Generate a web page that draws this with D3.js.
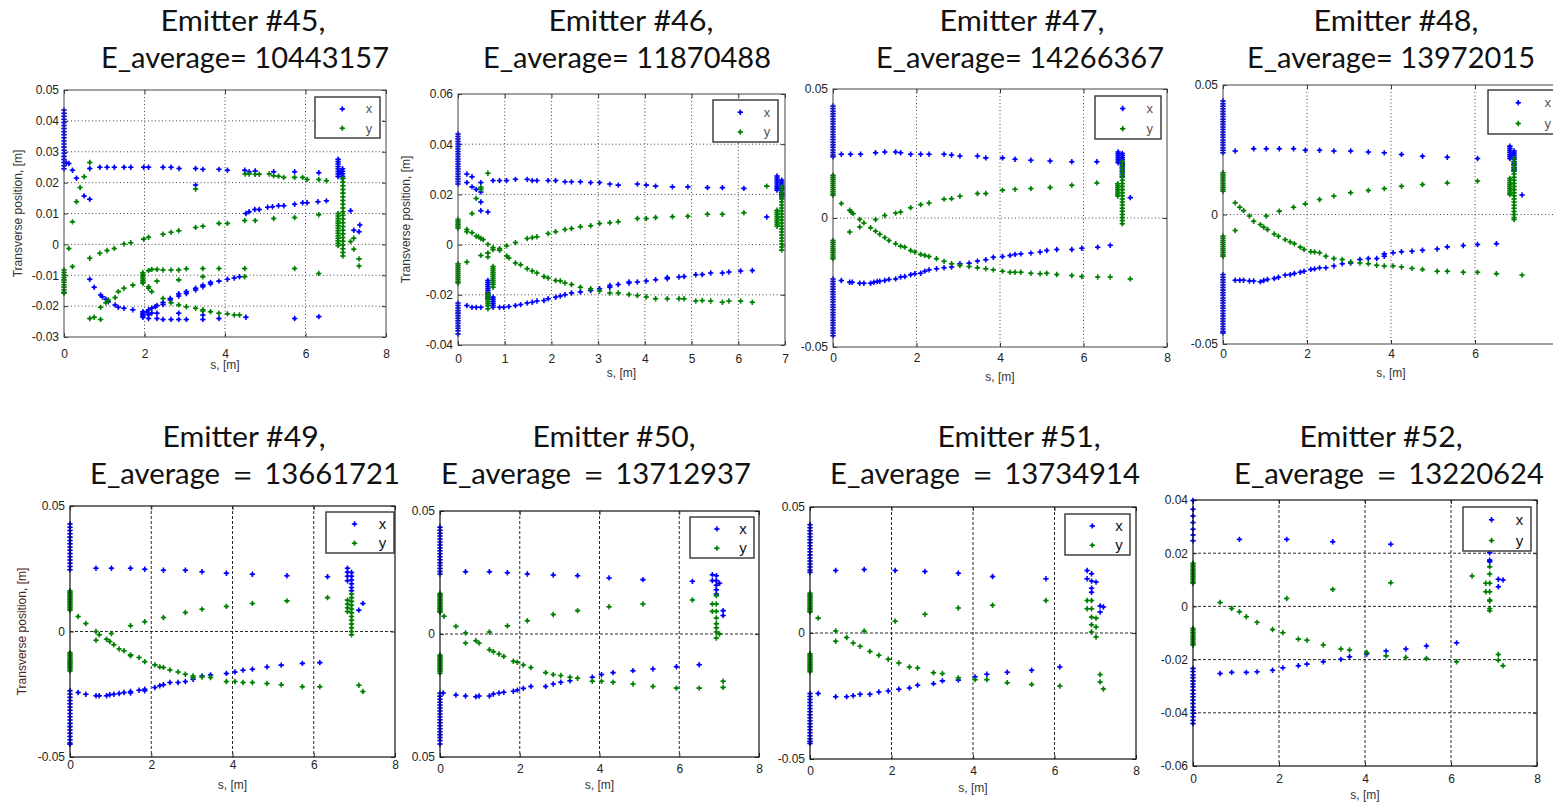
<!DOCTYPE html>
<html>
<head>
<meta charset="utf-8">
<script src="https://cdn.jsdelivr.net/npm/d3@7"></script>
<style>
  body { margin: 0; background: #fff; overflow: hidden; }
  svg { display: block; }
</style>
</head>
<body>
<div id="chart"></div>
<script>
// ---- data: [s (m), transverse position (m)] ----
var e45_x = [[0,0.0435],[0,0.0425],[0,0.0415],[0,0.0405],[0,0.0395],[0,0.0385],[0,0.0375],[0,0.0365],[0,0.0355],[0,0.0345],[0,0.0335],[0,0.0325],[0,0.0315],[0,0.0305],[0,0.0295],[0,0.0285],[0,0.0275],[0,0.0265],[0,0.0255],[0,0.0245],
  [0.06,0.0264],[0.12,0.0262],[0.21,0.024],[0.31,0.0214],[0.5,0.0157],[0.64,0.0146],
  [0.64,0.0246],[0.89,0.025],[1.07,0.025],[1.25,0.025],[1.49,0.025],[1.66,0.025],[1.98,0.025],[2.1,0.025],[2.46,0.025],[2.66,0.025],[2.86,0.0246],[3.27,0.0246],[3.45,0.0243],[3.85,0.0243],[4.06,0.024],[4.49,0.024],[4.6,0.0235],[4.75,0.0238],[5.21,0.0235],[5.73,0.0235],[6.33,0.0232],
  [3.27,0.0192],
  [6.81,0.0276],[6.81,0.0268],[6.81,0.026],[6.81,0.0252],[6.81,0.0244],[6.81,0.0236],[6.81,0.0228],[6.81,0.022],[6.92,0.0245],[6.92,0.0237],[6.92,0.0229],[6.92,0.0221],[6.92,0.0213],[6.86,0.0232],
  [4.52,0.01],[4.6,0.0106],[4.74,0.0113],[4.85,0.0113],[5.06,0.012],[5.18,0.0122],[5.33,0.0125],[5.46,0.0125],[5.73,0.013],[5.93,0.0135],[6.04,0.0135],[6.31,0.0138],[6.52,0.0141],
  [7.12,0.0109],[7.2,0.0046],[7.35,0.0063],[7.33,0.0041],
  [0.64,-0.0113],[0.75,-0.0139],[0.91,-0.0164],[0.95,-0.017],[1.04,-0.0178],[1.1,-0.0186],[1.27,-0.0196],[1.35,-0.0204],[1.49,-0.0207],[1.71,-0.0212],
  [1.96,-0.0218],[1.96,-0.0223],[1.96,-0.0228],[1.96,-0.0232],[1.96,-0.0236],
  [2.06,-0.0218],[2.1,-0.0212],[2.18,-0.0207],[2.27,-0.0202],[2.31,-0.0198],[2.46,-0.0188],[2.46,-0.0195],[2.64,-0.018],[2.64,-0.0175],[2.85,-0.0167],[2.85,-0.016],[3.04,-0.0159],[3.04,-0.0153],[3.27,-0.0148],[3.27,-0.0142],[3.45,-0.0137],[3.45,-0.0132],[3.64,-0.0128],[3.64,-0.0123],[3.85,-0.0119],[4.06,-0.0113],[4.23,-0.0109],[4.36,-0.0105],
  [2.1,-0.024],[2.31,-0.024],[2.46,-0.0243],[2.66,-0.0243],[2.85,-0.0243],[3.04,-0.0243],[3.45,-0.0243],[3.85,-0.024],[4.52,-0.0236],[5.73,-0.024],[6.33,-0.0234],
  [2.85,-0.0223],[2.31,-0.0223],[3.45,-0.0229],[2.1,-0.0228],[2.18,-0.0222]];
var e45_y = [[0,-0.0083],[0,-0.0091],[0,-0.0099],[0,-0.0107],[0,-0.0115],[0,-0.0123],[0,-0.0131],[0,-0.0139],[0,-0.0147],[0,-0.0155],[0,-0.0158],
  [0.12,-0.0013],[0.21,0.0073],[0.21,-0.0072],[0.31,0.0138],[0.4,0.0184],[0.5,0.0219],[0.64,0.0265],
  [0.64,-0.0045],[0.89,-0.0029],[1.07,-0.002],[1.25,-0.0013],[1.49,0.0001],[1.66,0.0005],[1.98,0.0017],[2.1,0.0023],[2.46,0.0033],[2.66,0.0039],[2.85,0.0044],[3.27,0.0055],[3.45,0.0059],[3.85,0.0068],[4.06,0.0068],[4.49,0.0077],[4.75,0.0077],[5.21,0.0084],[5.73,0.0087],[6.33,0.0096],
  [3.27,0.0179],
  [4.5,0.0228],[4.6,0.0228],[4.75,0.0227],[4.85,0.0227],[5.1,0.0228],[5.21,0.0222],[5.33,0.0221],[5.46,0.0217],[5.73,0.0217],[5.93,0.0217],[6.04,0.021],[6.33,0.021],[6.52,0.0206],
  [6.81,0.01],[6.81,0.0092],[6.81,0.0084],[6.81,0.0076],[6.81,0.0068],[6.81,0.006],[6.81,0.0052],[6.81,0.0044],[6.81,0.0036],[6.81,0.0028],[6.81,0.002],[6.81,0.0012],[6.81,0.0004],[6.81,-0.0004],
  [6.93,0.0214],[6.93,0.0202],[6.93,0.019],[6.93,0.0178],[6.93,0.0166],[6.93,0.0154],[6.93,0.0142],[6.93,0.013],[6.93,0.0118],[6.93,0.0106],[6.93,0.0094],[6.93,0.0082],[6.93,0.007],[6.93,0.0058],[6.93,0.0046],[6.93,0.0034],[6.93,0.0022],[6.93,0.001],[6.93,-0.0002],[6.93,-0.0014],[6.93,-0.0026],[6.93,-0.0038],
  [7.12,0.0009],[7.2,0.002],[7.2,-0.0016],[7.33,-0.0047],[7.33,-0.007],
  [0.91,-0.0204],[1.04,-0.0189],[1.1,-0.018],[1.27,-0.0172],[1.35,-0.0153],[1.49,-0.0142],[1.71,-0.0132],[0.64,-0.024],[0.75,-0.0236],[0.91,-0.0243],
  [1.96,-0.0092],[1.96,-0.0098],[1.96,-0.0104],[1.96,-0.011],[1.96,-0.0116],[1.96,-0.0122],[1.96,-0.0126],
  [2.1,-0.0085],[2.18,-0.0081],[2.31,-0.0081],[2.46,-0.0083],[2.66,-0.0083],[2.85,-0.0083],[3.04,-0.0079],[3.45,-0.0078],[3.85,-0.0078],[4.49,-0.0078],[5.73,-0.0078],[6.33,-0.0094],
  [2.1,-0.0137],[2.1,-0.0142],[2.18,-0.0153],[2.31,-0.0119],[2.46,-0.0175],[2.66,-0.0189],[2.85,-0.0196],[3.04,-0.0202],[3.27,-0.0207],[3.45,-0.0212],[3.45,-0.0216],[3.64,-0.0218],[3.85,-0.0223],[4.06,-0.0225],[4.23,-0.0229],[4.36,-0.0229],[4.49,-0.0105],[3.45,-0.0105],[2.85,-0.0115]];

var e46_x = [[0,0.0441],[0,0.0431],[0,0.0421],[0,0.0411],[0,0.0401],[0,0.0391],[0,0.0381],[0,0.0371],[0,0.0361],[0,0.0351],[0,0.0341],[0,0.0331],[0,0.0321],[0,0.0311],[0,0.0301],[0,0.0291],[0,0.0281],[0,0.0271],[0,0.0261],[0,0.0251],[0,0.0241],
  [0,-0.0233],[0,-0.0243],[0,-0.0253],[0,-0.0263],[0,-0.0273],[0,-0.0283],[0,-0.0293],[0,-0.0303],[0,-0.0313],[0,-0.0323],[0,-0.0333],[0,-0.0343],[0,-0.0356],
  [0.19,0.0281],[0.3,0.027],[0.19,0.0247],[0.3,0.023],[0.39,0.022],[0.49,0.0247],[0.49,0.021],[0.49,0.017],[0.49,0.0135],[0.64,0.013],
  [0.75,0.0255],[0.89,0.0255],[1.04,0.0255],[1.23,0.026],[1.48,0.026],[1.59,0.0255],[1.69,0.0255],[1.93,0.0255],[2.09,0.0255],[2.29,0.025],[2.43,0.025],[2.62,0.025],[2.84,0.0247],[3.03,0.0247],[3.25,0.0241],[3.43,0.0237],[3.84,0.0241],[4.03,0.0237],[4.23,0.0233],[4.59,0.023],[4.92,0.023],[5.34,0.0227],[5.66,0.0227],[6.12,0.0224],
  [6.83,0.0273],[6.83,0.0265],[6.83,0.0257],[6.83,0.0249],[6.83,0.0241],[6.83,0.0233],[6.83,0.0225],[6.83,0.0217],
  [6.93,0.0257],[6.93,0.0249],[6.93,0.0241],[6.93,0.0233],[6.93,0.0225],[6.93,0.0217],[6.93,0.0209],[6.93,0.0201],[6.93,0.0193],[6.93,0.0185],[6.61,0.011],
  [0.64,-0.0143],[0.64,-0.0151],[0.64,-0.0159],[0.64,-0.0167],[0.64,-0.0175],[0.64,-0.0183],[0.64,-0.0191],[0.64,-0.0199],[0.64,-0.0207],[0.64,-0.0216],
  [0.75,-0.021],[0.75,-0.0218],[0.75,-0.0226],[0.75,-0.0234],[0.75,-0.0242],[0.75,-0.025],
  [0.19,-0.0243],[0.3,-0.025],[0.39,-0.025],[0.49,-0.025],[0.89,-0.025],[0.98,-0.025],[1.09,-0.0247],[1.23,-0.0243],[1.34,-0.0239],[1.48,-0.0233],[1.59,-0.023],[1.69,-0.0225],[1.84,-0.0223],[1.93,-0.0216],[2.09,-0.021],[2.19,-0.0205],[2.29,-0.02],[2.43,-0.0193],[2.62,-0.0189],[2.84,-0.0183],[3.03,-0.0176],[3.25,-0.017],[3.25,-0.0163],[3.43,-0.0159],[3.66,-0.0153],[3.66,-0.0149],[3.84,-0.0149],[4.03,-0.0145],[4.23,-0.014],[4.48,-0.0136],[4.48,-0.0131],[4.73,-0.0129],[4.84,-0.0127],[5.09,-0.012],[5.23,-0.0119],[5.41,-0.0113],[5.66,-0.0113],[5.8,-0.0109],[6.05,-0.0105],[6.3,-0.0103]];
var e46_y = [[0,0.01],[0,0.0093],[0,0.0086],[0,0.0079],[0,0.0072],[0,0.0065],
  [0,-0.0076],[0,-0.0084],[0,-0.0092],[0,-0.01],[0,-0.0108],[0,-0.0116],[0,-0.0124],[0,-0.0132],[0,-0.014],[0,-0.0148],[0,-0.0153],
  [0.19,0.006],[0.19,0.0051],[0.3,0.0047],[0.39,0.0033],[0.44,0.0031],[0.49,0.0024],[0.54,0.002],[0.64,0.0001],[0.75,-0.0012],[0.89,-0.0023],[1.04,-0.0045],[1.09,-0.0053],[1.23,-0.0073],[1.34,-0.008],[1.48,-0.0096],[1.59,-0.0105],[1.69,-0.0113],[1.84,-0.0127],[1.93,-0.0133],[2.09,-0.0143],[2.19,-0.0145],[2.29,-0.0153],[2.43,-0.0159],[2.62,-0.017],[2.84,-0.0176],[3.03,-0.0185],[3.25,-0.0193],[3.43,-0.0193],[3.66,-0.0199],[3.84,-0.0203],[4.03,-0.0209],[4.23,-0.0216],[4.48,-0.0216],[4.73,-0.0216],[4.84,-0.0216],[5.09,-0.0225],[5.23,-0.0223],[5.41,-0.0225],[5.66,-0.023],[5.8,-0.0225],[6.05,-0.0225],[6.3,-0.023],
  [0.19,-0.0069],[0.49,-0.0043],[0.64,-0.0033],[0.64,-0.0049],[0.75,-0.002],[0.89,-0.0016],[1.04,-0.0005],[1.23,0.0008],[1.48,0.0024],[1.59,0.0028],[1.69,0.0031],[1.93,0.0044],[2.09,0.0051],[2.29,0.006],[2.43,0.0064],[2.62,0.0071],[2.84,0.0075],[3.03,0.0084],[3.25,0.0087],[3.43,0.0091],[3.84,0.0104],[4.03,0.0104],[4.23,0.0108],[4.59,0.0111],[4.92,0.0113],[5.34,0.0121],[5.66,0.0121],[6.12,0.0127],
  [0.3,0.0124],[0.39,0.0184],[0.49,0.022],[0.49,0.0228],[0.64,0.0284],
  [0.75,-0.0087],[0.75,-0.0095],[0.75,-0.0103],[0.75,-0.0111],[0.75,-0.0119],[0.75,-0.0127],[0.75,-0.0135],[0.75,-0.0143],[0.75,-0.0151],[0.75,-0.0159],[0.75,-0.017],
  [0.64,-0.0196],[0.64,-0.0204],[0.64,-0.0212],[0.64,-0.022],[0.64,-0.0228],[0.64,-0.0236],[0.64,-0.0244],[0.64,-0.0256],
  [6.61,0.0233],
  [6.83,0.0137],[6.83,0.0129],[6.83,0.0121],[6.83,0.0113],[6.83,0.0105],[6.83,0.0097],[6.83,0.0089],[6.83,0.0081],[6.83,0.0073],
  [6.93,0.023],[6.93,0.0218],[6.93,0.0206],[6.93,0.0194],[6.93,0.0182],[6.93,0.017],[6.93,0.0158],[6.93,0.0146],[6.93,0.0134],[6.93,0.0122],[6.93,0.011],[6.93,0.0098],[6.93,0.0086],[6.93,0.0074],[6.93,0.0062],[6.93,0.005],[6.93,0.0038],[6.93,0.0026],[6.93,0.0014],[6.93,0.0002],[6.93,-0.001],[6.93,-0.0022]];

var e47_x = [[0,0.0434],[0,0.0424],[0,0.0414],[0,0.0404],[0,0.0394],[0,0.0384],[0,0.0374],[0,0.0364],[0,0.0354],[0,0.0344],[0,0.0334],[0,0.0324],[0,0.0314],[0,0.0304],[0,0.0294],[0,0.0284],[0,0.0274],[0,0.0264],[0,0.0254],[0,0.0244],[0,0.0237],
  [0,-0.0236],[0,-0.0246],[0,-0.0256],[0,-0.0266],[0,-0.0276],[0,-0.0286],[0,-0.0296],[0,-0.0306],[0,-0.0316],[0,-0.0326],[0,-0.0336],[0,-0.0346],[0,-0.0356],[0,-0.0366],[0,-0.0376],[0,-0.0386],[0,-0.0396],[0,-0.0406],[0,-0.0416],[0,-0.0426],[0,-0.0436],[0,-0.0446],[0,-0.0456],
  [0.2,0.0247],[0.42,0.0247],[0.66,0.0247],[1.02,0.0253],[1.24,0.0256],[1.5,0.0256],[1.62,0.0253],[1.86,0.0247],[2.1,0.0247],[2.3,0.0247],[2.66,0.0247],[2.84,0.0244],[3.04,0.024],[3.46,0.024],[3.66,0.0233],[4.06,0.0233],[4.36,0.0228],[4.74,0.0224],[5.2,0.0221],[5.72,0.0218],[6.32,0.0218],
  [6.83,0.0256],[6.83,0.0249],[6.83,0.0242],[6.83,0.0235],[6.83,0.0228],[6.83,0.0221],[6.83,0.0214],
  [6.93,0.025],[6.93,0.0242],[6.93,0.0234],[6.93,0.0226],[6.93,0.0218],[6.93,0.021],[6.93,0.0202],[6.93,0.0194],[6.93,0.0186],[6.93,0.0178],[6.93,0.017],[6.93,0.0162],[7.12,0.0079],
  [0.2,-0.0242],[0.4,-0.0249],[0.46,-0.0249],[0.64,-0.0253],[0.74,-0.0253],[0.9,-0.0253],[0.98,-0.0249],[1.06,-0.0246],[1.12,-0.0245],[1.24,-0.0242],[1.34,-0.0238],[1.5,-0.0236],[1.62,-0.0229],[1.72,-0.0227],[1.86,-0.022],[1.96,-0.0216],[2.1,-0.0214],[2.2,-0.0206],[2.3,-0.0201],[2.48,-0.0197],[2.66,-0.0193],[2.84,-0.019],[3.04,-0.0177],[3.26,-0.0175],[3.46,-0.0167],[3.66,-0.0162],[3.84,-0.0152],[4.06,-0.0149],[4.24,-0.0145],[4.36,-0.0141],[4.5,-0.0139],[4.74,-0.0136],[4.96,-0.0132],[5.12,-0.0126],[5.36,-0.0122],[5.72,-0.0122],[5.96,-0.0117],[6.34,-0.0113],[6.64,-0.0106]];
var e47_y = [[0,0.0166],[0,0.0158],[0,0.015],[0,0.0142],[0,0.0134],[0,0.0126],[0,0.0118],[0,0.011],[0,0.0102],[0,0.0094],[0,0.0088],
  [0,-0.0087],[0,-0.0095],[0,-0.0103],[0,-0.0111],[0,-0.0119],[0,-0.0127],[0,-0.0135],[0,-0.0143],[0,-0.0151],[0,-0.0158],
  [0.2,0.0056],[0.4,0.003],[0.44,0.0023],[0.48,0.0017],[0.64,-0.0006],[0.74,-0.0019],[0.9,-0.0038],[1.02,-0.0051],[1.12,-0.0063],[1.24,-0.0076],[1.34,-0.0087],[1.5,-0.01],[1.62,-0.0109],[1.72,-0.0113],[1.86,-0.0126],[1.96,-0.0132],[2.1,-0.0141],[2.2,-0.0145],[2.3,-0.0149],[2.48,-0.0158],[2.66,-0.0168],[2.84,-0.0177],[3.04,-0.0184],[3.26,-0.0188],[3.46,-0.0193],[3.66,-0.0197],[3.84,-0.0201],[4.06,-0.0206],[4.24,-0.021],[4.36,-0.021],[4.5,-0.021],[4.74,-0.0214],[4.96,-0.0216],[5.12,-0.0214],[5.36,-0.0219],[5.72,-0.0223],[5.96,-0.0227],[6.34,-0.0229],[6.64,-0.0229],[7.12,-0.0236],
  [0.4,-0.0054],[0.64,-0.0035],[1.02,-0.0006],[1.24,0.001],[1.5,0.0019],[1.62,0.0023],[1.86,0.004],[2.1,0.0052],[2.3,0.0058],[2.66,0.0073],[2.84,0.0075],[3.04,0.0084],[3.46,0.0095],[3.66,0.0095],[4.06,0.0108],[4.36,0.0111],[4.74,0.0114],[5.2,0.0118],[5.72,0.0127],[6.32,0.0136],
  [6.82,0.0133],[6.82,0.0125],[6.82,0.0117],[6.82,0.0109],[6.82,0.0101],[6.82,0.0093],[6.82,0.0085],
  [6.93,0.0218],[6.93,0.0206],[6.93,0.0194],[6.93,0.0182],[6.93,0.017],[6.93,0.0158],[6.93,0.0146],[6.93,0.0134],[6.93,0.0122],[6.93,0.011],[6.93,0.0098],[6.93,0.0086],[6.93,0.0074],[6.93,0.0062],[6.93,0.005],[6.93,0.0038],[6.93,0.0026],[6.93,0.0014],[6.93,0.0002],[6.93,-0.001],[6.93,-0.0022]];

var e48_x = [[0,0.0438],[0,0.0428],[0,0.0418],[0,0.0408],[0,0.0398],[0,0.0388],[0,0.0378],[0,0.0368],[0,0.0358],[0,0.0348],[0,0.0338],[0,0.0328],[0,0.0318],[0,0.0308],[0,0.0298],[0,0.0288],[0,0.0278],[0,0.0268],[0,0.0258],[0,0.0248],[0,0.0238],
  [0,-0.0232],[0,-0.0242],[0,-0.0252],[0,-0.0262],[0,-0.0272],[0,-0.0282],[0,-0.0292],[0,-0.0302],[0,-0.0312],[0,-0.0322],[0,-0.0332],[0,-0.0342],[0,-0.0352],[0,-0.0362],[0,-0.0372],[0,-0.0382],[0,-0.0392],[0,-0.0402],[0,-0.0412],[0,-0.0422],[0,-0.0432],[0,-0.0442],[0,-0.0452],[0,-0.0457],
  [0.29,0.0245],[0.73,0.0254],[1.03,0.0254],[1.34,0.0254],[1.68,0.0254],[1.96,0.0248],[2.3,0.0248],[2.64,0.0245],[3.04,0.0245],[3.46,0.0241],[3.84,0.0238],[4.25,0.0232],[4.75,0.0225],[5.34,0.0221],[6.06,0.0216],
  [6.83,0.0264],[6.83,0.0256],[6.83,0.0248],[6.83,0.024],[6.83,0.0232],[6.83,0.0224],[6.83,0.0216],
  [6.93,0.0245],[6.93,0.0237],[6.93,0.0229],[6.93,0.0221],[6.93,0.0213],[6.93,0.0205],[6.93,0.0197],[6.93,0.0189],[6.93,0.0181],[6.93,0.0173],[6.93,0.0167],[7.12,0.0075],
  [0.29,-0.0254],[0.4,-0.0254],[0.49,-0.0254],[0.63,-0.0257],[0.73,-0.0257],[0.89,-0.026],[0.97,-0.0255],[1.06,-0.0251],[1.22,-0.0247],[1.32,-0.0242],[1.48,-0.0234],[1.6,-0.0232],[1.7,-0.0228],[1.84,-0.0223],[1.93,-0.0219],[2.09,-0.0212],[2.18,-0.021],[2.3,-0.0206],[2.45,-0.0206],[2.64,-0.0199],[2.84,-0.019],[3.04,-0.0187],[3.26,-0.0174],[3.46,-0.017],[3.66,-0.017],[3.84,-0.0161],[3.84,-0.0152],[4.05,-0.0148],[4.25,-0.0144],[4.5,-0.0142],[4.75,-0.0138],[5.1,-0.0133],[5.34,-0.0125],[5.72,-0.012],[6.06,-0.0116],[6.51,-0.0113]];
var e48_y = [[0,0.0161],[0,0.0153],[0,0.0145],[0,0.0137],[0,0.0129],[0,0.0121],[0,0.0113],[0,0.0105],[0,0.0097],[0,0.009],
  [0,-0.0084],[0,-0.0092],[0,-0.01],[0,-0.0108],[0,-0.0116],[0,-0.0124],[0,-0.0132],[0,-0.014],[0,-0.0148],[0,-0.0156],[0,-0.0161],
  [0.29,0.0045],[0.4,0.0028],[0.49,0.0015],[0.63,-0.0006],[0.73,-0.0026],[0.89,-0.0039],[0.97,-0.0049],[1.06,-0.0058],[1.22,-0.0075],[1.32,-0.0084],[1.48,-0.0097],[1.6,-0.0106],[1.7,-0.0113],[1.84,-0.0126],[1.93,-0.0135],[2.09,-0.0144],[2.18,-0.0145],[2.3,-0.0148],[2.45,-0.0161],[2.64,-0.017],[2.84,-0.0174],[3.04,-0.0183],[3.26,-0.0187],[3.46,-0.019],[3.66,-0.0196],[3.84,-0.0199],[4.05,-0.0199],[4.25,-0.0203],[4.5,-0.0208],[4.75,-0.0212],[5.1,-0.0219],[5.34,-0.0219],[5.72,-0.0223],[6.06,-0.0223],[6.51,-0.0229],[7.12,-0.0234],
  [0.29,-0.0062],[1.03,-0.0006],[1.34,0.0013],[1.68,0.0028],[1.96,0.0041],[2.3,0.0058],[2.64,0.0071],[3.04,0.0084],[3.46,0.0093],[3.84,0.01],[4.25,0.0109],[4.75,0.0116],[5.34,0.0122],[6.06,0.0129],
  [6.83,0.0139],[6.83,0.0131],[6.83,0.0123],[6.83,0.0115],[6.83,0.0107],[6.83,0.0099],[6.83,0.0091],[6.83,0.0083],[6.83,0.0077],
  [6.93,0.0216],[6.93,0.0204],[6.93,0.0192],[6.93,0.018],[6.93,0.0168],[6.93,0.0156],[6.93,0.0144],[6.93,0.0132],[6.93,0.012],[6.93,0.0108],[6.93,0.0096],[6.93,0.0084],[6.93,0.0072],[6.93,0.006],[6.93,0.0048],[6.93,0.0036],[6.93,0.0024],[6.93,0.0012],[6.93,0],[6.93,-0.0012],[6.93,-0.0019]];

var e49_x = [[0,0.0428],[0,0.0415],[0,0.0402],[0,0.0389],[0,0.0376],[0,0.0363],[0,0.035],[0,0.0337],[0,0.0324],[0,0.0311],[0,0.0298],[0,0.0285],[0,0.0272],[0,0.0259],[0,0.0246],
  [0,-0.0236],[0,-0.0249],[0,-0.0262],[0,-0.0275],[0,-0.0288],[0,-0.0301],[0,-0.0314],[0,-0.0327],[0,-0.034],[0,-0.0353],[0,-0.0366],[0,-0.0379],[0,-0.0392],[0,-0.0405],[0,-0.0418],[0,-0.0431],[0,-0.0444],[0,-0.0449],
  [0.64,0.0252],[1.02,0.0252],[1.49,0.0252],[1.84,0.0248],[2.3,0.0244],[2.84,0.0244],[3.25,0.0238],[3.85,0.0232],[4.49,0.0228],[5.34,0.0222],[6.34,0.0218],
  [6.83,0.0252],[6.83,0.0236],[6.83,0.022],[6.83,0.0202],
  [6.93,0.0235],[6.93,0.022],[6.93,0.0205],[6.93,0.019],[6.93,0.0175],[6.93,0.0162],[7.11,0.0085],[7.21,0.0112],
  [0.2,-0.0243],[0.39,-0.025],[0.64,-0.0256],[0.72,-0.0256],[0.9,-0.0256],[0.98,-0.0252],[1.08,-0.025],[1.21,-0.0247],[1.33,-0.0243],[1.49,-0.0239],[1.49,-0.0245],[1.7,-0.0234],[1.84,-0.023],[1.84,-0.0236],[2.09,-0.0223],[2.21,-0.0216],[2.3,-0.0212],[2.46,-0.0203],[2.66,-0.0203],[2.84,-0.0199],[3.03,-0.019],[3.25,-0.0177],[3.46,-0.0173],[3.85,-0.0167],[4.06,-0.0161],[4.26,-0.0154],[4.49,-0.015],[4.85,-0.0141],[5.2,-0.0134],[5.72,-0.0127],[6.15,-0.0124]];
var e49_y = [[0,0.0162],[0,0.0156],[0,0.015],[0,0.0144],[0,0.0138],[0,0.0132],[0,0.0126],[0,0.012],[0,0.0114],[0,0.0108],[0,0.0102],[0,0.0096],[0,0.009],[0,0.0085],
  [0,-0.0084],[0,-0.009],[0,-0.0096],[0,-0.0102],[0,-0.0108],[0,-0.0114],[0,-0.012],[0,-0.0126],[0,-0.0132],[0,-0.0138],[0,-0.0144],[0,-0.015],[0,-0.0157],
  [0.2,0.006],[0.39,0.0032],[0.64,0],[0.72,-0.0013],[0.9,-0.0031],[0.98,-0.004],[1.08,-0.0053],[1.21,-0.007],[1.33,-0.0077],[1.49,-0.0093],[1.49,-0.0097],[1.7,-0.0104],[1.84,-0.012],[2.09,-0.0133],[2.21,-0.0141],[2.3,-0.0143],[2.46,-0.0153],[2.66,-0.0161],[2.84,-0.017],[3.03,-0.0177],[3.03,-0.0183],[3.25,-0.0181],[3.46,-0.0183],[3.85,-0.0199],[4.06,-0.0199],[4.26,-0.0203],[4.49,-0.0203],[4.85,-0.0207],[5.2,-0.0212],[5.72,-0.022],[6.15,-0.022],[7.11,-0.0214],[7.21,-0.0239],
  [0.64,-0.0035],[1.02,-0.0008],[1.49,0.0023],[1.84,0.0039],[2.3,0.0056],[2.84,0.0076],[3.25,0.0089],[3.85,0.01],[4.49,0.0112],[5.34,0.0122],[6.34,0.0135],
  [6.83,0.0125],[6.83,0.011],[6.83,0.0095],[6.83,0.008],
  [6.93,0.0149],[6.93,0.0135],[6.93,0.012],[6.93,0.0105],[6.93,0.009],[6.93,0.0075],[6.93,0.006],[6.93,0.0045],[6.93,0.003],[6.93,0.0015],[6.93,0],[6.93,-0.0013]];

var e50_x = [[0,0.0434],[0,0.0422],[0,0.041],[0,0.0398],[0,0.0386],[0,0.0374],[0,0.0362],[0,0.035],[0,0.0338],[0,0.0326],[0,0.0314],[0,0.0302],[0,0.029],[0,0.0278],[0,0.0266],[0,0.0254],[0,0.0244],
  [0,-0.0241],[0,-0.0253],[0,-0.0265],[0,-0.0277],[0,-0.0289],[0,-0.0301],[0,-0.0313],[0,-0.0325],[0,-0.0337],[0,-0.0349],[0,-0.0361],[0,-0.0373],[0,-0.0385],[0,-0.0397],[0,-0.0409],[0,-0.0421],[0,-0.0433],[0,-0.0447],
  [0.08,-0.024],
  [0.64,0.0253],[1.24,0.0253],[1.69,0.0249],[2.19,0.0244],[2.84,0.024],[3.45,0.0237],[4.24,0.0228],[5.09,0.0221],[6.33,0.0214],
  [6.83,0.0241],[6.83,0.0217],[6.93,0.0237],[6.93,0.0217],[6.93,0.0198],[6.93,0.018],[6.93,0.0163],[7.01,0.0206],[7.1,0.0095],[7.1,0.0075],
  [0.4,-0.0248],[0.64,-0.0252],[0.9,-0.0255],[0.98,-0.0252],[1.24,-0.0252],[1.34,-0.0244],[1.48,-0.024],[1.6,-0.0237],[1.84,-0.0233],[1.94,-0.0228],[2.09,-0.0221],[2.28,-0.0213],[2.65,-0.0213],[2.84,-0.0203],[3.03,-0.0196],[3.26,-0.019],[3.82,-0.0176],[4.05,-0.0165],[4.34,-0.0157],[4.84,-0.0149],[5.34,-0.0142],[5.93,-0.0133],[6.5,-0.0125]];
var e50_y = [[0,0.0165],[0,0.0159],[0,0.0153],[0,0.0147],[0,0.0141],[0,0.0135],[0,0.0129],[0,0.0123],[0,0.0117],[0,0.0111],[0,0.0105],[0,0.0099],[0,0.0093],[0,0.0088],
  [0,-0.0085],[0,-0.0091],[0,-0.0097],[0,-0.0103],[0,-0.0109],[0,-0.0115],[0,-0.0121],[0,-0.0127],[0,-0.0133],[0,-0.0139],[0,-0.0145],[0,-0.0151],[0,-0.016],
  [0.1,0.0072],[0.4,0.0031],[0.64,0.0004],[1.24,0.0008],[1.69,0.0033],[2.19,0.0054],[2.84,0.0079],[3.45,0.0095],[4.24,0.0111],[5.09,0.0122],[6.33,0.0138],
  [0.64,-0.0037],[0.9,-0.0027],[0.98,-0.0037],[1.24,-0.0064],[1.34,-0.0072],[1.48,-0.0081],[1.6,-0.0091],[1.84,-0.0111],[1.94,-0.0115],[2.09,-0.0126],[2.28,-0.0136],[2.65,-0.0157],[2.84,-0.0165],[3.03,-0.0169],[3.26,-0.0176],[3.45,-0.018],[3.82,-0.0192],[4.05,-0.0192],[4.34,-0.0196],[4.84,-0.0203],[5.34,-0.0213],[5.93,-0.022],[6.5,-0.022],[7.1,-0.0192],[7.1,-0.0217],
  [6.83,0.0122],[6.83,0.0092],[6.93,0.0156],[6.93,0.0122],[6.93,0.0092],[6.93,0.0065],[6.93,0.0042],[6.93,0.0025],[6.93,0.0008],[6.93,-0.0016],[7.01,0]];

var e51_x = [[0,0.043],[0,0.0418],[0,0.0406],[0,0.0394],[0,0.0382],[0,0.037],[0,0.0358],[0,0.0346],[0,0.0334],[0,0.0322],[0,0.031],[0,0.0298],[0,0.0286],[0,0.0274],[0,0.0262],[0,0.025],[0,0.0241],
  [0,-0.024],[0,-0.0252],[0,-0.0264],[0,-0.0276],[0,-0.0288],[0,-0.03],[0,-0.0312],[0,-0.0324],[0,-0.0336],[0,-0.0348],[0,-0.036],[0,-0.0372],[0,-0.0384],[0,-0.0396],[0,-0.0408],[0,-0.042],[0,-0.043],[0,-0.0438],
  [0.2,-0.024],
  [0.63,0.0248],[1.33,0.0252],[2.09,0.0248],[2.82,0.0244],[3.64,0.0237],[4.48,0.0224],[5.79,0.0215],
  [6.8,0.0248],[6.8,0.0215],[6.91,0.0235],[6.91,0.0206],[6.91,0.0178],[6.91,0.0162],[7.02,0.0202],[7.12,0.0107],[7.2,0.0103],[7.12,0.0083],
  [0.63,-0.0253],[0.9,-0.0253],[1.06,-0.0249],[1.23,-0.0243],[1.47,-0.0243],[1.69,-0.0234],[1.92,-0.023],[2.18,-0.0223],[2.44,-0.0218],[2.64,-0.0207],[3.03,-0.0201],[3.25,-0.019],[3.64,-0.0187],[4.05,-0.0174],[4.34,-0.0164],[4.84,-0.0156],[5.44,-0.0148],[6.13,-0.0135]];
var e51_y = [[0,0.0158],[0,0.0152],[0,0.0146],[0,0.014],[0,0.0134],[0,0.0128],[0,0.0122],[0,0.0116],[0,0.011],[0,0.0104],[0,0.0098],[0,0.0092],[0,0.0086],[0,0.0083],
  [0,-0.0082],[0,-0.0088],[0,-0.0094],[0,-0.01],[0,-0.0106],[0,-0.0112],[0,-0.0118],[0,-0.0124],[0,-0.013],[0,-0.0136],[0,-0.0142],[0,-0.0148],[0,-0.0154],
  [0.2,0.0059],[0.63,0.0008],[1.33,0.0008],[2.09,0.0047],[2.82,0.0074],[3.64,0.0099],[4.48,0.011],[5.79,0.0129],
  [0.63,-0.0033],[0.9,-0.0018],[1.06,-0.004],[1.23,-0.0053],[1.47,-0.0073],[1.69,-0.0088],[1.92,-0.0104],[2.18,-0.0119],[2.44,-0.0135],[2.64,-0.0139],[3.03,-0.0158],[3.25,-0.0161],[3.64,-0.0178],[4.05,-0.0185],[4.34,-0.0185],[4.84,-0.0197],[5.44,-0.0204],[6.13,-0.021],[7.12,-0.0165],[7.12,-0.0194],[7.2,-0.0222],
  [6.8,0.0129],[6.8,0.0096],[6.91,0.0129],[6.91,0.0096],[6.91,0.0063],[6.91,0.0033],[6.91,0.0004],[7.02,0.0059],[7.02,0.0024],[7.02,-0.0016]];

var e52_x = [[0,0.0398],[0,0.0365],[0,0.034],[0,0.0315],[0,0.029],[0,0.0268],[0,0.0247],
  [0,-0.0233],[0,-0.0245],[0,-0.0258],[0,-0.0268],[0,-0.028],[0,-0.0292],[0,-0.0302],[0,-0.0315],[0,-0.0328],[0,-0.034],[0,-0.0352],[0,-0.0365],[0,-0.0378],[0,-0.039],[0,-0.0402],[0,-0.0415],[0,-0.0428],[0,-0.044],
  [0.63,-0.0252],[0.9,-0.0248],[1.24,-0.0248],[1.49,-0.0246],[1.85,-0.024],[2.09,-0.0231],[2.45,-0.0223],[2.65,-0.0217],[3.03,-0.0208],[3.44,-0.0199],[3.64,-0.0189],[4.04,-0.0179],[4.49,-0.0168],[4.95,-0.016],[5.43,-0.0149],[6.13,-0.0137],
  [1.08,0.0252],[2.18,0.0252],[3.25,0.0243],[4.6,0.0234],
  [6.9,0.0202],[6.9,0.0174],[6.9,0.0168],[7.1,0.0102],[7.21,0.0099],[7.1,0.0074]];
var e52_y = [[0,0.0162],[0,0.0155],[0,0.0148],[0,0.0141],[0,0.0134],[0,0.0127],[0,0.012],[0,0.0113],[0,0.0106],[0,0.0099],[0,0.0092],[0,0.0087],
  [0,-0.0083],[0,-0.009],[0,-0.0097],[0,-0.0104],[0,-0.0111],[0,-0.0118],[0,-0.0125],[0,-0.0132],[0,-0.0139],[0,-0.0145],
  [0.63,0.0015],[0.9,-0.0008],[1.08,-0.002],[1.24,-0.0039],[1.49,-0.006],[1.85,-0.0087],[2.09,-0.0099],[2.45,-0.0123],[2.65,-0.0127],[3.03,-0.0145],[3.44,-0.016],[3.64,-0.0164],[4.04,-0.0173],[4.49,-0.0186],[4.95,-0.0192],[5.43,-0.0196],[6.13,-0.0208],
  [2.18,0.003],[3.25,0.0064],[4.6,0.0089],[6.49,0.0114],
  [6.81,0.0087],[6.81,0.0055],[6.9,0.0149],[6.9,0.0122],[6.9,0.0087],[6.9,0.0055],[6.9,0.0024],[6.9,0.002],[6.9,-0.0008],[6.9,-0.0016],[7.1,-0.0181],[7.1,-0.0202],[7.21,-0.0223]];

// ---- titles and tick labels ----
var emitterIds = ['45', '46', '47', '48', '49', '50', '51', '52'];
var energies = ['10443157', '11870488', '14266367', '13972015', '13661721', '13712937', '13734914', '13220624'];

var xTicks8 = [0, 2, 4, 6, 8];
var xTicks6 = [0, 2, 4, 6];
var xTicks7 = [0, 1, 2, 3, 4, 5, 6, 7];
var yTicks45 = [-0.03, -0.02, -0.01, 0, 0.01, 0.02, 0.03, 0.04, 0.05];
var yLabels45 = ['-0.03', '-0.02', '-0.01', '0', '0.01', '0.02', '0.03', '0.04', '0.05'];
var yTicks46 = [-0.04, -0.02, 0, 0.02, 0.04, 0.06];
var yLabels46 = ['-0.04', '-0.02', '0', '0.02', '0.04', '0.06'];
var yTicks05 = [-0.05, 0, 0.05];
var yLabels05 = ['-0.05', '0', '0.05'];
var yLabels50 = ['0.05', '0', '0.05'];
var yTicks52 = [-0.06, -0.04, -0.02, 0, 0.02, 0.04];
var yLabels52 = ['-0.06', '-0.04', '-0.02', '0', '0.02', '0.04'];

var seriesNames = ['x', 'y'];
var seriesColors = ['#0000ff', '#008000'];

// layout per panel: plot box [left, top, right, bottom], legend box, title centres
var panels = [
  { xs: e45_x, ys: e45_y, xMax: 8, xTicks: xTicks8, yDom: [-0.03, 0.05], yTicks: yTicks45, yLabels: yLabels45, grid: yTicks45,
    box: [64, 90, 386, 337], leg: [315, 97, 380, 138], tc: [243, 245], xl: 16, xt: 28, yl: 18, row: 0 },
  { xs: e46_x, ys: e46_y, xMax: 7, xTicks: xTicks7, yDom: [-0.04, 0.06], yTicks: yTicks46, yLabels: yLabels46, grid: yTicks46,
    box: [458, 94, 785, 345], leg: [713, 100, 778, 142], tc: [631, 627], xl: 13, xt: 28, yl: 406, row: 0 },
  { xs: e47_x, ys: e47_y, xMax: 8, xTicks: xTicks8, yDom: [-0.05, 0.05], yTicks: yTicks05, yLabels: yLabels05, grid: [0],
    box: [833, 89, 1167, 347], leg: [1095, 96, 1161, 139], tc: [1022, 1020], xl: 10, xt: 30, yl: null, row: 0 },
  { xs: e48_x, ys: e48_y, xMax: 8, xTicks: xTicks6, yDom: [-0.05, 0.05], yTicks: yTicks05, yLabels: yLabels05, grid: [0],
    box: [1223, 85, 1559, 344], leg: [1488, 90, 1560, 134], tc: [1396, 1391], xl: 9, xt: 29, yl: null, row: 0 },
  { xs: e49_x, ys: e49_y, xMax: 8, xTicks: xTicks8, yDom: [-0.05, 0.05], yTicks: yTicks05, yLabels: yLabels05, grid: [0],
    box: [70, 506, 395, 757], leg: [326, 512, 394, 553], tc: [244, 245], xl: 7, xt: 28, yl: 22, row: 1 },
  { xs: e50_x, ys: e50_y, xMax: 8, xTicks: xTicks8, yDom: [-0.05, 0.05], yTicks: yTicks05, yLabels: yLabels50, grid: [0],
    box: [440, 511, 759, 757], leg: [690, 517, 754, 558], tc: [614, 596], xl: 11, xt: 28, yl: null, row: 1 },
  { xs: e51_x, ys: e51_y, xMax: 8, xTicks: xTicks8, yDom: [-0.05, 0.05], yTicks: yTicks05, yLabels: yLabels05, grid: [0],
    box: [810, 507, 1136, 759], leg: [1065, 514, 1130, 555], tc: [1019, 985], xl: 11, xt: 29, yl: null, row: 1 },
  { xs: e52_x, ys: e52_y, xMax: 8, xTicks: xTicks8, yDom: [-0.06, 0.04], yTicks: yTicks52, yLabels: yLabels52, grid: yTicks52,
    box: [1193, 500, 1537, 766], leg: [1463, 507, 1531, 551], tc: [1381, 1389], xl: 12, xt: 29, yl: null, row: 1 }
];

var svg = d3.select('#chart').append('svg')
  .attr('width', 1553)
  .attr('height', 805)
  .style('font-family', '"Liberation Sans", Arial, sans-serif');

// matlab-ish point marker: small disc with a plus through it
var blob = {
  draw: function(ctx, size) {
    var r = Math.sqrt(size / Math.PI), a = r * 1.6, w = r * 0.45;
    ctx.moveTo(r, 0);
    ctx.arc(0, 0, r, 0, 2 * Math.PI);
    ctx.moveTo(-a, -w); ctx.lineTo(a, -w); ctx.lineTo(a, w); ctx.lineTo(-a, w); ctx.closePath();
    ctx.moveTo(-w, -a); ctx.lineTo(w, -a); ctx.lineTo(w, a); ctx.lineTo(-w, a); ctx.closePath();
  }
};
var marker = d3.symbol().type(blob).size(9);

function drawPanel(p, i) {
  var x0 = p.box[0], y0 = p.box[1], x1 = p.box[2], y1 = p.box[3];
  var x = d3.scaleLinear().domain([0, p.xMax]).range([x0, x1]);
  var y = d3.scaleLinear().domain(p.yDom).range([y1, y0]);
  var dash = p.row === 0 ? '1,2.5' : '3,2';
  var gridColor = p.row === 0 ? '#333' : '#111';
  var g = svg.append('g');

  // vertical + horizontal grid
  g.selectAll('.gx').data(p.xTicks.filter(function(t) { return t > 0 && t < p.xMax; }))
    .enter().append('line')
    .attr('x1', function(d) { return x(d); }).attr('x2', function(d) { return x(d); })
    .attr('y1', y0).attr('y2', y1)
    .attr('stroke', gridColor).attr('stroke-width', 0.9).attr('stroke-dasharray', dash);
  g.selectAll('.gy').data(p.grid.filter(function(t) { return t > p.yDom[0] && t < p.yDom[1]; }))
    .enter().append('line')
    .attr('x1', x0).attr('x2', x1)
    .attr('y1', function(d) { return y(d); }).attr('y2', function(d) { return y(d); })
    .attr('stroke', gridColor).attr('stroke-width', 0.9).attr('stroke-dasharray', dash);

  // axes, ticks pointing inwards
  g.append('g').attr('transform', 'translate(0,' + y1 + ')')
    .call(d3.axisBottom(x).tickValues(p.xTicks).tickSize(-4).tickPadding(p.xl - 4).tickFormat(d3.format('d')));
  g.append('g').attr('transform', 'translate(' + x0 + ',0)')
    .call(d3.axisLeft(y).tickValues(p.yTicks).tickSize(-4).tickPadding(5)
      .tickFormat(function(d, k) { return p.yLabels[k]; }));
  g.append('g').attr('transform', 'translate(0,' + y0 + ')')
    .call(d3.axisTop(x).tickValues(p.xTicks).tickSize(-4).tickFormat(''));
  g.append('g').attr('transform', 'translate(' + x1 + ',0)')
    .call(d3.axisRight(y).tickValues(p.yTicks).tickSize(-4).tickFormat(''));
  g.selectAll('.domain').remove();
  g.selectAll('.tick line').attr('stroke', '#333');
  g.selectAll('.tick text').attr('fill', '#222').style('font-size', '12px')
    .style('font-family', '"Liberation Sans", Arial, sans-serif');

  // points, x first then y
  [p.xs, p.ys].forEach(function(data, k) {
    g.append('g').selectAll('path').data(data).enter().append('path')
      .attr('d', marker)
      .attr('transform', function(d) { return 'translate(' + x(d[0]) + ',' + y(d[1]) + ')'; })
      .attr('fill', seriesColors[k]);
  });

  // box
  g.append('rect').attr('x', x0).attr('y', y0).attr('width', x1 - x0).attr('height', y1 - y0)
    .attr('fill', 'none').attr('stroke', p.row === 0 ? '#444' : '#111').attr('stroke-width', p.row === 0 ? 1 : 1.2);

  // axis titles
  g.append('text').attr('x', (x0 + x1) / 2).attr('y', y1 + p.xt + 4)
    .attr('text-anchor', 'middle').attr('fill', '#333').style('font-size', '12px').text('s, [m]');
  if (p.yl !== null) {
    g.append('text')
      .attr('transform', 'translate(' + p.yl + ',' + (y0 + y1) / 2 + ') rotate(-90)')
      .attr('dy', '0.35em').attr('text-anchor', 'middle')
      .attr('fill', p.row === 0 ? '#333' : '#4a2424').style('font-size', '12px')
      .text('Transverse position, [m]');
  }

  // legend
  var lg = g.append('g');
  var L = p.leg;
  lg.append('rect').attr('x', L[0]).attr('y', L[1]).attr('width', L[2] - L[0]).attr('height', L[3] - L[1])
    .attr('fill', '#fff').attr('stroke', '#333').attr('stroke-width', 1.4);
  seriesNames.forEach(function(name, k) {
    var ry = L[1] + (L[3] - L[1]) * (k === 0 ? 0.29 : 0.76);
    var w = L[2] - L[0];
    lg.append('path').attr('d', marker)
      .attr('transform', 'translate(' + (L[0] + w * 0.42) + ',' + ry + ')')
      .attr('fill', seriesColors[k]);
    lg.append('text').attr('x', L[0] + w * 0.83).attr('y', ry).attr('dy', '0.35em')
      .attr('text-anchor', 'middle')
      .attr('fill', p.row === 0 ? '#555' : '#111')
      .style('font-size', p.row === 0 ? '13px' : '15px')
      .text(name);
  });

  // two-line title
  var top = p.row === 0 ? [31, 68] : [447, 484];
  var eq = p.row === 0 ? '= ' : ' \uFF1D ';
  svg.append('text').attr('x', p.tc[0]).attr('y', top[0]).attr('text-anchor', 'middle')
    .style('font-family', 'Lato, "Open Sans", sans-serif').style('font-size', '29px').attr('fill', '#111')
    .attr('textLength', p.row === 0 ? 165 : 163).attr('lengthAdjust', 'spacingAndGlyphs')
    .text('Emitter #' + emitterIds[i] + ',');
  svg.append('text').attr('x', p.tc[1]).attr('y', top[1]).attr('text-anchor', 'middle')
    .style('font-family', 'Lato, "Open Sans", sans-serif').style('font-size', '29px').attr('fill', '#111')
    .attr('textLength', p.row === 0 ? 288 : 310).attr('lengthAdjust', 'spacingAndGlyphs')
    .text('E_average' + eq + energies[i]);
}

panels.forEach(drawPanel);
</script>
</body>
</html>
